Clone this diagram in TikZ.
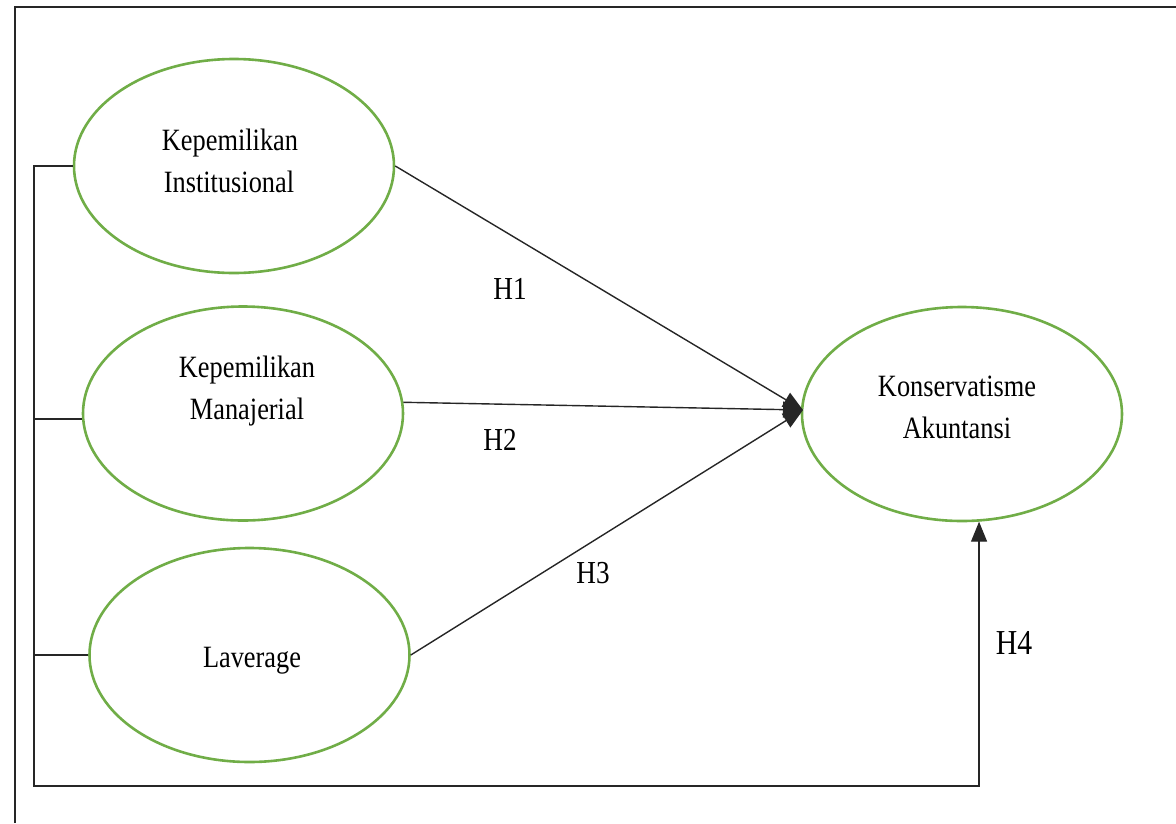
\documentclass[tikz,border=0pt]{standalone}
\usepackage{fontspec}
\setmainfont{Liberation Serif}[FakeStretch=0.85]
\usetikzlibrary{arrows.meta,shapes.geometric}
\definecolor{ovgreen}{RGB}{112,173,71}
\begin{document}
\begin{tikzpicture}[x=1pt,y=-1pt,
  varnode/.style={draw=ovgreen,line width=2.6pt,ellipse,minimum width=320pt,minimum height=214pt,inner sep=0pt},
  lbl/.style={inner sep=0pt,anchor=base,font=\fontsize{31}{42}\selectfont},
  hyp/.style={inner sep=0pt,font=\fontsize{32}{40}\selectfont},
  conn/.style={draw=black!85,line width=1.4pt},
  arr/.style={conn,-{Triangle[length=20pt,width=16pt]}}]
\useasboundingbox (0,0) rectangle (1176,823);
% frame
\draw[black!85,line width=2pt] (15,823) -- (15,7) -- (1176,7);
% ellipses
\node[varnode] (k1) at (234,166) {};
\node[varnode] (k2) at (243,413.5) {};
\node[varnode] (k3) at (249.5,655) {};
\node[varnode] (k4) at (962,414) {};
% texts
\node[lbl] (t1a) at (230,150) {Kepemilikan};
\node[lbl] (t1b) at (229,192) {Institusional};
\node[lbl] (t2a) at (247,377) {Kepemilikan};
\node[lbl] (t2b) at (247,419) {Manajerial};
\node[lbl] (t3) at (252,667) {Laverage};
\node[lbl] (t4a) at (957,396) {Konservatisme};
\node[lbl] (t4b) at (957,438) {Akuntansi};
% convergence point
\coordinate (tip) at (803,410);
\coordinate (bl) at (34,786);
\draw[arr] (k1.east) -- (tip);
\draw[arr] (k2.4) -- (tip);
\draw[arr] (k3.east) -- (tip);
% H4 path
\draw[arr] (k1.west) -| (bl) -| (k4.-81);
\draw[conn] (k2.-178) -- (k2.-178 -| bl);
\draw[conn] (k3.west) -- (k3.west -| bl);
% hypothesis labels
\node[hyp] (h1) at (510,289) {H1};
\node[hyp] (h2) at (500,440) {H2};
\node[hyp] (h3) at (593,573) {H3};
\node[hyp,font=\fontsize{35}{40}\selectfont] (h4) at (1014,643) {H4};
\end{tikzpicture}
\end{document}
